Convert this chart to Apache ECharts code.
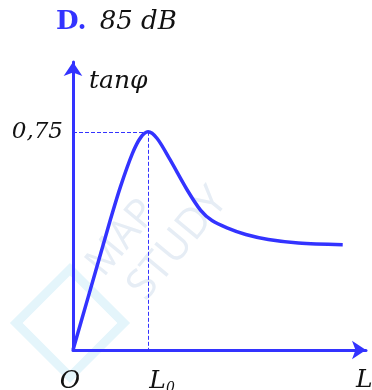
<!DOCTYPE html>
<html>
<head>
<meta charset="utf-8">
<script src="https://cdn.jsdelivr.net/npm/echarts@6/dist/echarts.min.js"></script>
<style>
  html, body { margin: 0; padding: 0; background: #fff; }
  #chart { width: 372px; height: 390px; }
</style>
</head>
<body>
<div id="chart"></div>
<script>
  // tanφ as a function of L (L in units of L0)
  var lValues   = [0, 0.2, 0.4, 0.5, 0.63, 0.79, 0.9, 1, 1.12, 1.29, 1.52, 1.7, 1.85, 2.05, 2.3, 2.6, 3.0, 3.59];
  var tanValues = [0, 0.18, 0.36, 0.45, 0.56, 0.675, 0.73, 0.75, 0.727, 0.655, 0.55, 0.48, 0.445, 0.42, 0.397, 0.38, 0.368, 0.362];
  var peak = [1, 0.75];
  var xTicks = [0, 1];
  var xTickText = ['{a|O}', '{b|L}{s|0}'];
  var yTicks = [0.75];
  var yTickText = ['0,75'];

  var blue = '#3333ff';
  var serif = '"DejaVu Serif", "Liberation Serif", serif';

  var chart = echarts.init(document.getElementById('chart'));

  var points = [];
  for (var i = 0; i < lValues.length; i++) {
    points.push([lValues[i], tanValues[i]]);
  }

  chart.setOption({
    animation: false,
    grid: {left: 73, right: 6, top: 62, bottom: 40, containLabel: false, outerBoundsMode: 'none'},
    xAxis: {
      type: 'value',
      min: 0,
      max: 3.9,
      axisLine: {
        show: true,
        symbol: ['none', 'arrow'],
        symbolSize: [14, 14],
        lineStyle: {color: blue, width: 3}
      },
      axisTick: {show: false},
      splitLine: {show: false},
      axisLabel: {
        customValues: xTicks,
        margin: 17,
        formatter: function (v) {
          return xTickText[xTicks.indexOf(v)];
        },
        rich: {
          a: {fontFamily: serif, fontStyle: 'italic', fontSize: 25, color: '#111', lineHeight: 28, padding: [0, 6, 0, 0]},
          b: {fontFamily: serif, fontStyle: 'italic', fontSize: 25, color: '#111', lineHeight: 28, padding: [0, 0, 0, 28]},
          s: {fontFamily: serif, fontStyle: 'italic', fontSize: 14, color: '#111', verticalAlign: 'bottom', lineHeight: 14, padding: [9, 0, 0, 0]}
        }
      }
    },
    yAxis: {
      type: 'value',
      min: 0,
      max: 0.99,
      axisLine: {
        show: true,
        symbol: ['none', 'arrow'],
        symbolSize: [14, 14],
        lineStyle: {color: blue, width: 3}
      },
      axisTick: {show: false},
      splitLine: {show: false},
      axisLabel: {
        customValues: yTicks,
        margin: 10,
        formatter: function (v) {
          return yTickText[yTicks.indexOf(v)];
        },
        fontFamily: serif,
        fontStyle: 'italic',
        fontSize: 23,
        color: '#111'
      }
    },
    graphic: [
      {
        type: 'text', left: 56, top: 9, z: 10,
        style: {
          text: '{d|D.}{t|85 dB}',
          rich: {
            d: {fontFamily: serif, fontWeight: 'bold', fontSize: 26, fill: blue},
            t: {fontFamily: serif, fontStyle: 'italic', fontSize: 26, fill: '#111', padding: [0, 0, 0, 13]}
          }
        }
      },
      {
        type: 'text', left: 89, top: 69, z: 10,
        style: {text: 'tanφ', fontFamily: serif, fontStyle: 'italic', fontSize: 25, fill: '#111'}
      },
      {
        type: 'text', left: 356, top: 368, z: 10,
        style: {text: 'L', fontFamily: serif, fontStyle: 'italic', fontSize: 25, fill: '#111'}
      },
      // watermark
      {
        type: 'text', x: 122, y: 238, rotation: 0.88, z: 0,
        style: {text: 'MAP', fontFamily: 'Open Sans', fontSize: 40, fill: '#e6edf5', align: 'center', verticalAlign: 'middle'}
      },
      {
        type: 'text', x: 178, y: 244, rotation: 0.88, z: 0,
        style: {text: 'STUDY', fontFamily: 'Open Sans', fontSize: 42, fill: '#e6edf5', align: 'center', verticalAlign: 'middle'}
      },
      {
        type: 'rect', x: 70, y: 323, rotation: Math.PI / 4, z: 0,
        shape: {x: -38, y: -38, width: 76, height: 76},
        style: {fill: 'none', stroke: '#e4f5fb', lineWidth: 9}
      }
    ],
    series: [{
      type: 'line',
      data: points,
      smooth: 0.3,
      showSymbol: false,
      z: 5,
      lineStyle: {color: blue, width: 3.5},
      markLine: {
        silent: true,
        symbol: 'none',
        label: {show: false},
        lineStyle: {color: blue, width: 1, type: [4, 2]},
        data: [
          [{coord: [0, peak[1]]}, {coord: peak}],
          [{coord: peak}, {coord: [peak[0], 0]}]
        ]
      }
    }]
  });
</script>
</body>
</html>
